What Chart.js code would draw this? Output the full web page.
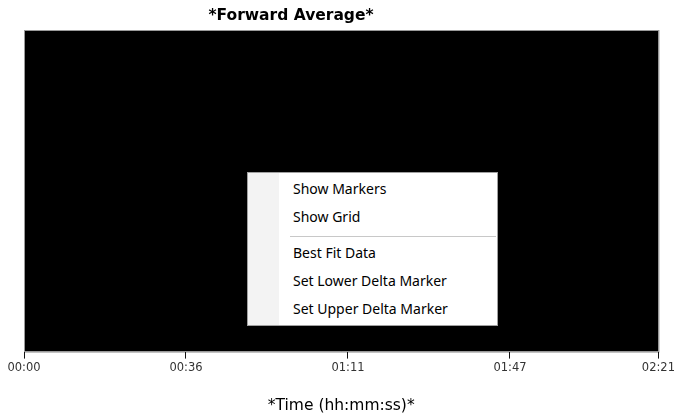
<!DOCTYPE html>
<html>
<head>
<meta charset="utf-8">
<script src="https://cdn.jsdelivr.net/npm/chart.js@4"></script>
<style>
  html, body { margin: 0; padding: 0; background: #fff; }
  #wrap { position: relative; width: 678px; height: 417px; }
  canvas { display: block; }
  #menu {
    position: absolute; left: 247px; top: 172px; width: 251px; height: 154px;
    background: #fff; border: 1px solid #a0a0a0; box-sizing: border-box;
    font-family: "Noto Sans", sans-serif; font-size: 14px; color: #000;
  }
  #menu .gutter { position: absolute; left: 0; top: 0; bottom: 0; width: 31px; background: #f3f3f3; }
  #menu .item { position: absolute; left: 45px; white-space: nowrap; line-height: 18px; }
  #menu .sep { position: absolute; left: 42px; right: 1px; height: 1px; background: #c8c8c8; }
</style>
</head>
<body>
<div id="wrap">
  <canvas id="c" width="678" height="417"></canvas>
  <div id="menu">
    <div class="gutter"></div>
    <div class="item" style="top:7px">Show Markers</div>
    <div class="item" style="top:35px">Show Grid</div>
    <div class="sep" style="top:63px"></div>
    <div class="item" style="top:71px">Best Fit Data</div>
    <div class="item" style="top:99px">Set Lower Delta Marker</div>
    <div class="item" style="top:127px">Set Upper Delta Marker</div>
  </div>
</div>
<script>
const chartTitle = "*Forward Average*";
const xAxisTitle = "*Time (hh:mm:ss)*";
const tickValues = [0, 36, 72, 108, 141];           // seconds
const tickLabels = ["00:00", "00:36", "01:11", "01:47", "02:21"];
const seriesTimes = [];                              // no visible data in the plot
const seriesValues = [];

const blackPlot = {
  id: 'blackPlot',
  beforeDraw(chart) {
    const { ctx, chartArea: a } = chart;
    ctx.save();
    ctx.fillStyle = '#000';
    ctx.fillRect(a.left, a.top, a.right - a.left, a.bottom - a.top);
    ctx.strokeStyle = '#9a9a9a';
    ctx.lineWidth = 1;
    ctx.strokeRect(a.left + 0.5, a.top - 0.5, a.right - a.left, a.bottom - a.top + 1);
    ctx.restore();
  },
  afterDraw(chart) {
    const { ctx, chartArea: a } = chart;
    ctx.save();
    ctx.font = 'bold 15.5px "DejaVu Sans"';
    ctx.fillStyle = '#000';
    ctx.textAlign = 'center';
    ctx.textBaseline = 'middle';
    ctx.fillText(chartTitle, 291, 16);
    ctx.restore();
  }
};

new Chart(document.getElementById('c'), {
  type: 'line',
  data: {
    datasets: [{
      label: 'Forward Average',
      data: seriesTimes.map((t, i) => ({ x: t, y: seriesValues[i] })),
      borderColor: '#ffff00', pointRadius: 0
    }]
  },
  options: {
    responsive: false,
    animation: false,
    layout: { padding: { left: 24, right: 16, top: 31, bottom: 0 } },
    plugins: { legend: { display: false }, tooltip: { enabled: false }, title: { display: false } },
    scales: {
      x: {
        type: 'linear', min: 0, max: 141,
        afterBuildTicks(scale) { scale.ticks = tickValues.map(v => ({ value: v })); },
        ticks: {
          autoSkip: false, maxRotation: 0, padding: 3,
          color: '#333', font: { family: 'DejaVu Sans', size: 11.5 },
          callback: (v, i) => tickLabels[i]
        },
        grid: { display: true, drawOnChartArea: false, drawTicks: true, tickLength: 7, color: '#111', lineWidth: 1 },
        border: { display: true, color: '#9a9a9a', width: 1 },
        title: { display: true, text: xAxisTitle, color: '#000', font: { family: 'DejaVu Sans', size: 15.5 }, padding: { top: 18, bottom: 2 } }
      },
      y: { display: false, min: 0, max: 1 }
    }
  },
  plugins: [blackPlot]
});
</script>
</body>
</html>
